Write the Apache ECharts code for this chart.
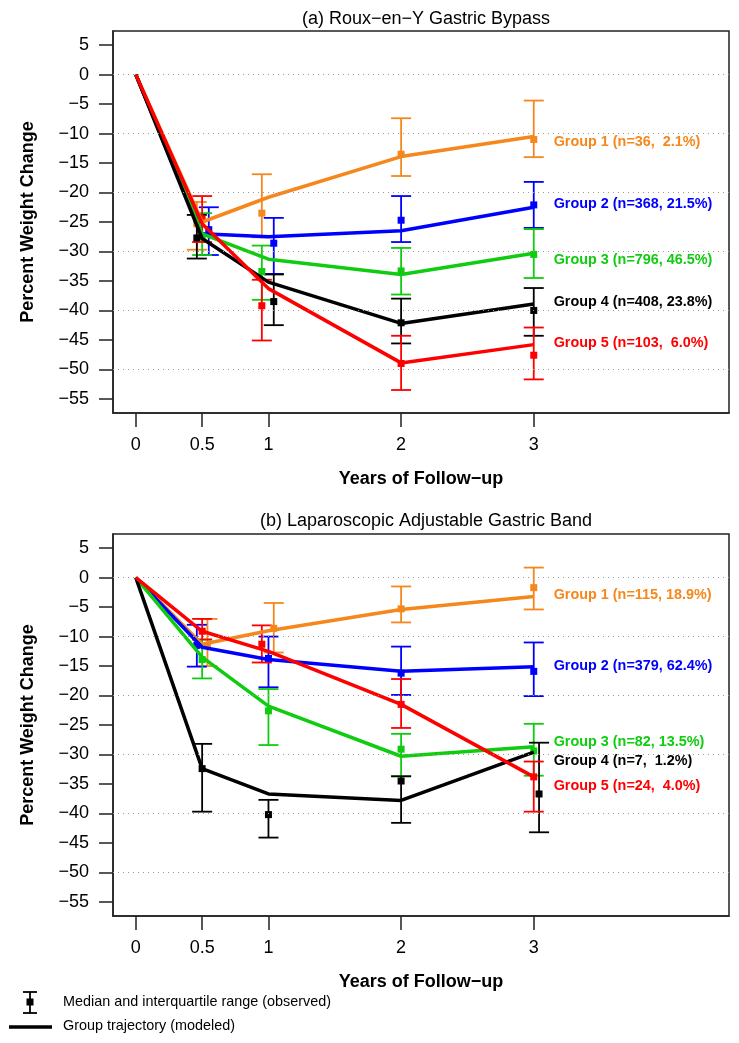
<!DOCTYPE html>
<html>
<head>
<meta charset="utf-8">
<script src="https://cdn.jsdelivr.net/npm/echarts@6/dist/echarts.min.js"></script>
<style>html,body{margin:0;padding:0;background:#fff;}#c{width:739px;height:1043px;}</style>
</head>
<body>
<div id="c"></div>
<script>
// ---------- DATA ----------
const years = [0, 0.5, 1, 2, 3];
const xTicks = [0, 0.5, 1, 2, 3];
const yTicks = [5, 0, -5, -10, -15, -20, -25, -30, -35, -40, -45, -50, -55];
const gridVals = [0, -10, -20, -30, -40, -50];
const groupColors = ['#F5871C', '#0000FF', '#10CC10', '#000000', '#FF0000'];

// Panel (a): modeled trajectories
const aTraj1 = [0, -25.0, -20.8, -13.9, -10.5];
const aTraj2 = [0, -27.0, -27.5, -26.5, -22.5];
const aTraj3 = [0, -27.0, -31.3, -33.9, -30.3];
const aTraj4 = [0, -27.8, -35.2, -42.2, -38.9];
const aTraj5 = [0, -25.3, -36.3, -48.9, -45.8];
// Panel (a): observed (x position, median, upper quartile, lower quartile)
const aObsX1 = [0.46, 0.95, 2, 3], aMed1 = [-25.3, -23.5, -13.5, -11.0], aHi1 = [-21.6, -16.9, -7.4, -4.4], aLo1 = [-29.7, -27.6, -17.2, -14.0];
const aObsX2 = [0.55, 1.04, 2, 3], aMed2 = [-26.3, -28.6, -24.7, -22.1], aHi2 = [-22.5, -24.3, -20.6, -18.2], aLo2 = [-30.6, -33.8, -28.4, -26.0];
const aObsX3 = [0.5, 0.95, 2, 3],  aMed3 = [-27.5, -33.4, -33.3, -30.5], aHi3 = [-23.5, -29.0, -29.4, -26.2], aLo3 = [-30.6, -38.2, -37.3, -34.5];
const aObsX4 = [0.46, 1.04, 2, 3], aMed4 = [-27.7, -38.5, -42.1, -40.0], aHi4 = [-23.8, -33.9, -38.0, -36.2], aLo4 = [-31.2, -42.5, -45.6, -44.3];
const aObsX5 = [0.5, 0.95, 2, 3],  aMed5 = [-24.5, -39.2, -49.0, -47.6], aHi5 = [-20.6, -34.8, -44.3, -42.9], aLo5 = [-28.4, -45.1, -53.5, -51.7];
const aLabels = ['Group 1 (n=36,  2.1%)', 'Group 2 (n=368, 21.5%)', 'Group 3 (n=796, 46.5%)', 'Group 4 (n=408, 23.8%)', 'Group 5 (n=103,  6.0%)'];
const aLabelY = [-11.5, -22.0, -31.4, -38.5, -45.6];

// Panel (b): modeled trajectories
const bTraj1 = [0, -11.3, -9.0, -5.4, -3.2];
const bTraj2 = [0, -11.8, -13.9, -15.9, -15.1];
const bTraj3 = [0, -13.5, -21.8, -30.3, -28.7];
const bTraj4 = [0, -32.4, -36.7, -37.8, -29.6];
const bTraj5 = [0, -9.1, -12.5, -21.5, -33.8];
// Panel (b): observed
const bObsX1 = [0.54, 1.04, 2, 3], bMed1 = [-11.5, -8.6, -5.3, -1.7], bHi1 = [-7.0, -4.3, -1.5, 1.7], bLo1 = [-15.0, -12.7, -7.6, -5.4];
const bObsX2 = [0.46, 1, 2, 3],    bMed2 = [-11.5, -13.7, -16.2, -15.9], bHi2 = [-8.0, -10.0, -11.7, -11.0], bLo2 = [-15.1, -18.6, -19.9, -20.1];
const bObsX3 = [0.5, 1, 2, 3],     bMed3 = [-13.9, -22.6, -29.1, -29.4], bHi3 = [-10.5, -18.9, -26.5, -24.8], bLo3 = [-17.1, -28.4, -33.7, -33.6];
const bObsX4 = [0.5, 1, 2, 3.04],  bMed4 = [-32.4, -40.2, -34.5, -36.7], bHi4 = [-28.2, -37.7, -33.7, -28.0], bLo4 = [-39.7, -44.1, -41.6, -43.2];
const bObsX5 = [0.5, 0.95, 2, 3],  bMed5 = [-9.1, -11.3, -21.5, -33.8], bHi5 = [-7.0, -8.1, -17.2, -31.2], bLo5 = [-10.5, -14.4, -25.5, -39.7];
const bLabels = ['Group 1 (n=115, 18.9%)', 'Group 2 (n=379, 62.4%)', 'Group 3 (n=82, 13.5%)', 'Group 4 (n=7,  1.2%)', 'Group 5 (n=24,  4.0%)'];
const bLabelY = [-3.0, -15.0, -27.9, -31.1, -35.3];
const labelX = 3.15;

const titles = ['(a) Roux\u2212en\u2212Y Gastric Bypass', '(b) Laparoscopic Adjustable Gastric Band'];
const xName = 'Years of Follow\u2212up';
const yName = 'Percent Weight Change';
const legendTexts = ['Median and interquartile range (observed)', 'Group trajectory (modeled)'];

// ---------- BUILD ----------
const FONT = 'Liberation Sans';
const panels = [
  { traj: [aTraj1, aTraj2, aTraj3, aTraj4, aTraj5],
    ox: [aObsX1, aObsX2, aObsX3, aObsX4, aObsX5], med: [aMed1, aMed2, aMed3, aMed4, aMed5],
    hi: [aHi1, aHi2, aHi3, aHi4, aHi5], lo: [aLo1, aLo2, aLo3, aLo4, aLo5],
    labels: aLabels, labelY: aLabelY },
  { traj: [bTraj1, bTraj2, bTraj3, bTraj4, bTraj5],
    ox: [bObsX1, bObsX2, bObsX3, bObsX4, bObsX5], med: [bMed1, bMed2, bMed3, bMed4, bMed5],
    hi: [bHi1, bHi2, bHi3, bHi4, bHi5], lo: [bLo1, bLo2, bLo3, bLo4, bLo5],
    labels: bLabels, labelY: bLabelY }
];

const gridTops = [31, 534];
const gridH = 382;
const grids = gridTops.map(t => ({ left: 113, top: t, width: 616, height: gridH, show: true, borderColor: '#222', borderWidth: 1.5, backgroundColor: 'transparent' }));

const xAxes = grids.map((g, i) => ({
  type: 'value', gridIndex: i, min: -0.172, max: 4.472,
  name: xName, nameLocation: 'middle', nameGap: 57,
  nameTextStyle: { fontFamily: FONT, fontSize: 18, fontWeight: 'bold', color: '#000' },
  axisLine: { show: true, onZero: false, lineStyle: { color: '#222', width: 1.5 } },
  axisTick: { show: true, length: 14, customValues: xTicks, lineStyle: { color: '#222', width: 1.5 } },
  axisLabel: { customValues: xTicks, margin: 23, fontFamily: FONT, fontSize: 18, color: '#000', formatter: v => String(v) },
  splitLine: { show: false }
}));
const yAxes = grids.map((g, i) => ({
  type: 'value', gridIndex: i, min: -57.4, max: 7.4,
  name: yName, nameLocation: 'middle', nameGap: 76, nameRotate: 90,
  nameTextStyle: { fontFamily: FONT, fontSize: 18, fontWeight: 'bold', color: '#000' },
  axisLine: { show: true, onZero: false, lineStyle: { color: '#222', width: 1.5 } },
  axisTick: { show: true, length: 14, customValues: yTicks, lineStyle: { color: '#222', width: 1.5 } },
  axisLabel: { customValues: yTicks, margin: 24, fontFamily: FONT, fontSize: 18, color: '#000', formatter: v => String(v).replace('-', '\u2212') },
  splitLine: { show: false }
}));

const series = [];
panels.forEach((p, pi) => {
  // gridlines
  series.push({
    type: 'line', xAxisIndex: pi, yAxisIndex: pi, data: [], silent: true,
    markLine: { silent: true, symbol: 'none', animation: false, label: { show: false },
      lineStyle: { type: [1, 4], color: '#999', width: 1.2 },
      data: gridVals.map(v => ({ yAxis: v })) }
  });
  for (let g = 0; g < 5; g++) {
    const col = groupColors[g];
    series.push({
      type: 'line', xAxisIndex: pi, yAxisIndex: pi, symbol: 'none', silent: true,
      lineStyle: { color: col, width: 3.5 }, itemStyle: { color: col },
      data: years.map((x, k) => [x, p.traj[g][k]])
    });
    series.push({
      type: 'custom', xAxisIndex: pi, yAxisIndex: pi, silent: true,
      encode: { x: 0, y: [1, 2, 3] },
      data: p.ox[g].map((x, k) => [x, p.med[g][k], p.hi[g][k], p.lo[g][k]]),
      renderItem: (params, api) => {
        const a = api.coord([api.value(0), api.value(2)]);
        const b = api.coord([api.value(0), api.value(3)]);
        const st = { stroke: col, lineWidth: 1.8 };
        return { type: 'group', children: [
          { type: 'line', shape: { x1: a[0], y1: a[1], x2: b[0], y2: b[1] }, style: st },
          { type: 'line', shape: { x1: a[0] - 10, y1: a[1], x2: a[0] + 10, y2: a[1] }, style: st },
          { type: 'line', shape: { x1: b[0] - 10, y1: b[1], x2: b[0] + 10, y2: b[1] }, style: st }
        ]};
      }
    });
    series.push({
      type: 'scatter', xAxisIndex: pi, yAxisIndex: pi, symbol: 'rect', symbolSize: 7, silent: true,
      itemStyle: { color: col, opacity: 1 },
      data: p.ox[g].map((x, k) => [x, p.med[g][k]])
    });
  }
  // group labels
  series.push({
    type: 'custom', xAxisIndex: pi, yAxisIndex: pi, silent: true,
    encode: { x: 0, y: 1 },
    data: p.labels.map((t, g) => ({ name: t, value: [labelX, p.labelY[g], g] })),
    renderItem: (params, api) => {
      const c = api.coord([api.value(0), api.value(1)]);
      const g = api.value(2);
      return { type: 'text', x: c[0], y: c[1], style: {
        text: p.labels[g], fill: groupColors[g], fontFamily: FONT, fontSize: 14.4, fontWeight: 'bold',
        align: 'left', verticalAlign: 'middle' } };
    }
  });
});

const option = {
  animation: false,
  backgroundColor: '#fff',
  title: titles.map((t, i) => ({
    text: t, left: 421, top: [5, 507][i], textAlign: 'center',
    textStyle: { fontFamily: FONT, fontSize: 18, fontWeight: 'normal', color: '#000' }
  })),
  grid: grids, xAxis: xAxes, yAxis: yAxes, series: series,
  graphic: [
    { type: 'line', shape: { x1: 30, y1: 992, x2: 30, y2: 1013 }, style: { stroke: '#000', lineWidth: 1.8 } },
    { type: 'line', shape: { x1: 23, y1: 992, x2: 37, y2: 992 }, style: { stroke: '#000', lineWidth: 1.8 } },
    { type: 'line', shape: { x1: 23, y1: 1013, x2: 37, y2: 1013 }, style: { stroke: '#000', lineWidth: 1.8 } },
    { type: 'rect', shape: { x: 26.5, y: 998.5, width: 7, height: 7 }, style: { fill: '#000' } },
    { type: 'text', x: 63, y: 1002, style: { text: legendTexts[0], fontFamily: FONT, fontSize: 14.4, fill: '#000', verticalAlign: 'middle' } },
    { type: 'line', shape: { x1: 9, y1: 1027, x2: 52, y2: 1027 }, style: { stroke: '#000', lineWidth: 3.5 } },
    { type: 'text', x: 63, y: 1026, style: { text: legendTexts[1], fontFamily: FONT, fontSize: 14.4, fill: '#000', verticalAlign: 'middle' } }
  ]
};

const chart = echarts.init(document.getElementById('c'), null, { renderer: 'canvas' });
chart.setOption(option);
</script>
</body>
</html>
